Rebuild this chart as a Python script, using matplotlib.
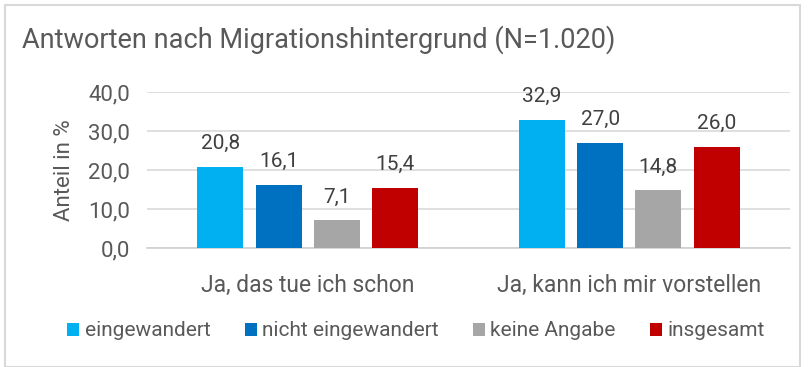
import matplotlib.pyplot as plt
import numpy as np
from matplotlib.patches import Rectangle

categories = ["Ja, das tue ich schon", "Ja, kann ich mir vorstellen"]
series = ["eingewandert", "nicht eingewandert", "keine Angabe", "insgesamt"]
values = [
    [20.8, 32.9],
    [16.1, 27.0],
    [7.1, 14.8],
    [15.4, 26.0],
]
colors = ["#00B0F0", "#0070C0", "#A6A6A6", "#C00000"]
yticks = [0, 10, 20, 30, 40]

plt.rcParams['font.family'] = ['Roboto', 'DejaVu Sans']
text_color = "#595959"

fig = plt.figure(figsize=(8.09, 3.67), dpi=100)
ax = fig.add_axes([147 / 809, 1 - 248 / 367, (790 - 147) / 809, (248 - 92) / 367])

x = np.arange(len(categories))
slot = 0.181
width = 0.143
for i, (name, vals, c) in enumerate(zip(series, values, colors)):
    pos = x + (i - 1.5) * slot
    bars = ax.bar(pos, vals, width=width, color=c, label=name, zorder=3)
    for b, v in zip(bars, vals):
        ax.annotate(f"{v:.1f}".replace(".", ","), (b.get_x() + b.get_width() / 2, v),
                    xytext=(0, 10), textcoords="offset points",
                    ha="center", va="bottom", fontsize=15, color="#404040")

ax.set_xlim(-0.5, 1.5)
ax.set_ylim(0, 40)
ax.set_yticks(yticks)
ax.set_yticklabels([f"{t:.1f}".replace(".", ",") for t in yticks], fontsize=16, color=text_color)
ax.set_xticks(x)
ax.set_xticklabels(categories, fontsize=16.5, color=text_color)
ax.tick_params(length=0, pad=12)
ax.tick_params(axis="x", pad=19)
ax.grid(axis="y", color="#D9D9D9", linewidth=1.2, zorder=0)
for s in ["top", "right", "left"]:
    ax.spines[s].set_visible(False)
ax.spines["bottom"].set_color("#D0D0D0")
ax.spines["bottom"].set_linewidth(1.2)
ax.set_ylabel("Anteil in %", fontsize=16, color=text_color, labelpad=10)

fig.text(22 / 809, 1 - 40 / 367, "Antworten nach Migrationshintergrund (N=1.020)",
         fontsize=19.5, color=text_color, va="center", ha="left")

fig.legend(loc="center", bbox_to_anchor=(416 / 809, 1 - 331 / 367), ncol=4,
           frameon=False, fontsize=15, handlelength=0.58, handleheight=0.58,
           handletextpad=0.25, columnspacing=1.65, labelcolor=text_color)

fig.patches.append(Rectangle((5 / 809, 0), 795 / 809, 1 - 5 / 367, transform=fig.transFigure,
                             fill=False, edgecolor="#D9D9D9", linewidth=1.5))

fig.savefig("out.png", dpi=100)
